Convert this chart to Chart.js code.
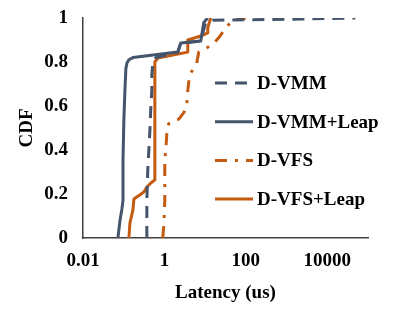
<!DOCTYPE html>
<html>
<head>
<meta charset="utf-8">
<script src="https://cdn.jsdelivr.net/npm/chart.js@4"></script>
<style>
html, body { margin: 0; padding: 0; background: #fff; }
#wrap { width: 415px; height: 312px; }
</style>
</head>
<body>
<div id="wrap"><canvas id="cdfChart" width="415" height="312"></canvas></div>
<script>
// latency (us) / CDF pairs
const vmmLatency = [0.37, 0.37, 0.39, 0.415, 0.44, 0.46, 0.49, 0.49, 0.52, 0.62, 2.13, 2.52, 7.8, 10.3, 15.4, 2200, 49000];
const vmmCdf     = [0, 0.17, 0.31, 0.40, 0.49, 0.58, 0.67, 0.74, 0.80, 0.82, 0.845, 0.886, 0.895, 0.98, 0.99, 0.995, 1.0];

const vmmLeapLatency = [0.072, 0.081, 0.090, 0.096, 0.096, 0.101, 0.107, 0.113, 0.12, 0.134, 0.168, 2.13, 2.52, 7.8, 9.25, 11.6];
const vmmLeapCdf     = [0, 0.08, 0.13, 0.17, 0.35, 0.54, 0.67, 0.77, 0.795, 0.81, 0.82, 0.845, 0.886, 0.895, 0.98, 1.0];

const vfsLatency = [0.91, 0.97, 1.02, 1.02, 1.08, 1.15, 1.28, 2.25, 2.99, 3.54, 3.75, 3.96, 4.44, 6.22, 6.97, 10.3, 16.3, 21.5, 32, 47.5, 99];
const vfsCdf     = [0, 0.06, 0.17, 0.355, 0.40, 0.48, 0.52, 0.54, 0.57, 0.605, 0.67, 0.71, 0.75, 0.795, 0.845, 0.86, 0.886, 0.91, 0.955, 0.99, 1.0];

const vfsLeapLatency = [0.134, 0.142, 0.168, 0.178, 0.313, 0.37, 0.464, 0.582, 0.582, 0.689, 3.75, 3.75, 7.8, 11.6, 11.6, 13.7];
const vfsLeapCdf     = [0, 0.068, 0.127, 0.177, 0.209, 0.232, 0.25, 0.264, 0.80, 0.818, 0.845, 0.90, 0.918, 0.932, 0.955, 1.0];

const xTickValues = [0.01, 1, 100, 10000];
const yTickValues = [0, 0.2, 0.4, 0.6, 0.8, 1];

const slate = '#44546A';
const orange = '#C55A11';
const serif = "'Liberation Serif', 'Times New Roman', serif";

function pairs(xs, ys) {
    return xs.map((x, i) => ({ x: x, y: ys[i] }));
}

// legend drawn inside the plot, right side
const insideLegend = {
    id: 'insideLegend',
    afterDatasetsDraw(chart) {
        const ctx = chart.ctx;
        const area = chart.chartArea;
        const x0 = area.left + 132;
        const x1 = area.left + 170;
        chart.data.datasets.forEach((ds, i) => {
            const y = area.top + 65 + i * 38.7;
            ctx.save();
            ctx.strokeStyle = ds.borderColor;
            ctx.lineWidth = ds.borderWidth;
            ctx.setLineDash(ds.borderDash || []);
            ctx.beginPath();
            ctx.moveTo(x0, y);
            ctx.lineTo(x1, y);
            ctx.stroke();
            ctx.setLineDash([]);
            ctx.fillStyle = '#000';
            ctx.font = 'bold 19px ' + serif;
            ctx.textBaseline = 'middle';
            ctx.fillText(ds.label, x1 + 4, y + 1);
            ctx.restore();
        });
    }
};

const ctx = document.getElementById('cdfChart').getContext('2d');
const cdfChart = new Chart(ctx, {
    type: 'line',
    data: {
        datasets: [
            {
                label: 'D-VMM',
                data: pairs(vmmLatency, vmmCdf),
                borderColor: slate,
                borderWidth: 3,
                borderDash: [12, 8]
            },
            {
                label: 'D-VMM+Leap',
                data: pairs(vmmLeapLatency, vmmLeapCdf),
                borderColor: slate,
                borderWidth: 3
            },
            {
                label: 'D-VFS',
                data: pairs(vfsLatency, vfsCdf),
                borderColor: orange,
                borderWidth: 3,
                borderDash: [12, 8, 3, 8]
            },
            {
                label: 'D-VFS+Leap',
                data: pairs(vfsLeapLatency, vfsLeapCdf),
                borderColor: orange,
                borderWidth: 3
            }
        ]
    },
    options: {
        responsive: false,
        animation: false,
        devicePixelRatio: 1,
        layout: {
            padding: { top: 18, right: 47, left: 0, bottom: 0 }
        },
        elements: {
            point: { radius: 0, hoverRadius: 0 },
            line: { tension: 0, borderCapStyle: 'butt', borderJoinStyle: 'round' }
        },
        scales: {
            x: {
                type: 'logarithmic',
                min: 0.01,
                max: 100000,
                grid: { display: false, drawTicks: false },
                border: { display: true, color: '#404040', width: 1.5 },
                afterBuildTicks: function(scale) {
                    scale.ticks = xTickValues.map(v => ({ value: v }));
                },
                afterFit: function(scale) {
                    scale.height = 74;
                    scale.paddingLeft = 0;
                    scale.paddingRight = 0;
                },
                ticks: {
                    padding: 12,
                    maxRotation: 0,
                    color: '#000',
                    font: { family: serif, size: 19, weight: 'bold' },
                    callback: function(value) { return String(value); }
                },
                title: {
                    display: true,
                    text: 'Latency (us)',
                    color: '#000',
                    font: { family: serif, size: 19, weight: 'bold' },
                    padding: { top: 0, bottom: 8 }
                }
            },
            y: {
                min: 0,
                max: 1,
                grid: { display: false, drawTicks: false },
                border: { display: true, color: '#404040', width: 1.5 },
                afterBuildTicks: function(scale) {
                    scale.ticks = yTickValues.map(v => ({ value: v }));
                },
                afterFit: function(scale) {
                    scale.width = 83;
                    scale.paddingTop = 0;
                    scale.paddingBottom = 0;
                },
                ticks: {
                    padding: 15,
                    color: '#000',
                    font: { family: serif, size: 19, weight: 'bold' },
                    callback: function(value) { return String(Number(value.toFixed(1))); }
                },
                title: {
                    display: true,
                    text: 'CDF',
                    color: '#000',
                    font: { family: serif, size: 19, weight: 'bold' },
                    padding: { top: 16, bottom: 0 }
                }
            }
        },
        plugins: {
            legend: { display: false },
            tooltip: { enabled: false }
        }
    },
    plugins: [insideLegend]
});
</script>
</body>
</html>
